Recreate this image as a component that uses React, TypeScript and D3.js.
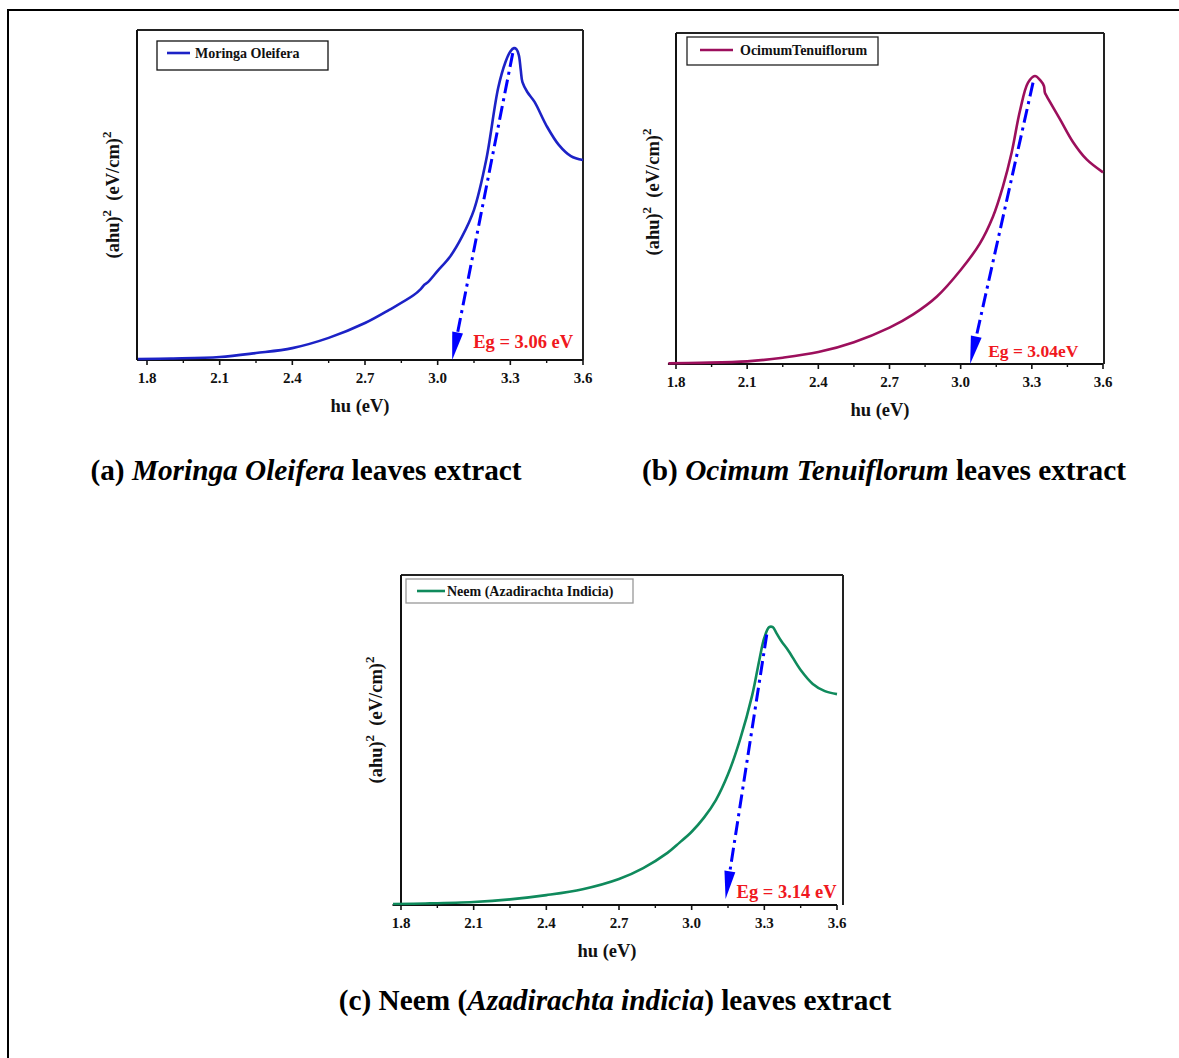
import React from "react";
import * as d3 from "d3";

const FONT = "'Liberation Serif', 'Times New Roman', Times, serif";

const majorTicks = [1.8, 2.1, 2.4, 2.7, 3.0, 3.3, 3.6];
const tickLabels = ["1.8", "2.1", "2.4", "2.7", "3.0", "3.3", "3.6"];
const minorTicks = [1.95, 2.25, 2.55, 2.85, 3.15, 3.45];

// Panel (a) Moringa Oleifera
const energyA = [1.763, 1.9, 2.1, 2.25, 2.4, 2.55, 2.7, 2.8, 2.9, 2.93, 2.945, 2.96, 3.0, 3.05, 3.1, 3.15, 3.2, 3.25, 3.28, 3.3, 3.315, 3.325, 3.335, 3.343, 3.35, 3.37, 3.4, 3.45, 3.5, 3.55, 3.6];
const absorbA = [0.3, 0.45, 0.9, 2.1, 3.6, 6.7, 11.2, 15.2, 19.6, 21.5, 22.8, 23.6, 27.0, 31.2, 37.3, 45.5, 60.5, 82.5, 90.3, 93.5, 94.5, 94.2, 92.4, 87.9, 84.2, 81.2, 78.2, 70.9, 65.2, 61.8, 60.6];

// Panel (b) Ocimum Tenuiflorum
const energyB = [1.768, 1.9, 2.1, 2.25, 2.4, 2.55, 2.7, 2.8, 2.9, 3.0, 3.08, 3.136, 3.178, 3.215, 3.25, 3.284, 3.313, 3.337, 3.351, 3.355, 3.362, 3.419, 3.474, 3.531, 3.6];
const absorbB = [0.2, 0.35, 0.8, 1.9, 3.6, 6.6, 11.0, 15.0, 20.4, 28.4, 36.3, 44.5, 53.6, 63.9, 76.5, 85.0, 87, 85.6, 84, 82, 81, 73.9, 67, 61.8, 57.9];

// Panel (c) Neem
const energyC = [1.767, 1.9, 2.1, 2.25, 2.4, 2.55, 2.7, 2.8, 2.9, 2.95, 3.0, 3.05, 3.1, 3.15, 3.2, 3.25, 3.28, 3.3, 3.32, 3.335, 3.35, 3.37, 3.4, 3.45, 3.5, 3.55, 3.6];
const absorbC = [0.3, 0.45, 0.9, 1.7, 3.0, 4.8, 7.9, 11.2, 15.8, 18.9, 22.2, 26.4, 31.8, 39.6, 50.2, 63.6, 74.5, 81.0, 84.2, 84.2, 82.4, 80, 77, 71.2, 67, 64.8, 63.9];

const legendNames = ["Moringa Oleifera", "OcimumTenuiflorum", "Neem (Azadirachta Indicia)"];
const bandGaps = [3.06, 3.04, 3.14];
const gapLabels = ["Eg = 3.06 eV", "Eg = 3.04eV", "Eg = 3.14 eV"];
const arrowStarts: [number, number][] = [[3.31, 93], [3.305, 85], [3.31, 82]];
const arrowEndValues = [0, 0, 1.8];

type Layout = {
  x18: number; x36: number; left: number; right: number; top: number; bottom: number;
  axisStart: number; color: string; legendBorder: string;
  legend: { x: number; y: number; w: number; h: number; lx1: number; lx2: number; tx: number; cy: number };
  egDx: number; egY: number; egSize: number; xTitleX: number; yTitleX: number; yTitleY: number;
};

const layouts: Layout[] = [
  {
    x18: 147, x36: 583, left: 137, right: 583, top: 30, bottom: 360, axisStart: 1.759,
    color: "#1c22c6", legendBorder: "#111",
    legend: { x: 157, y: 41, w: 171, h: 29, lx1: 167, lx2: 190, tx: 195, cy: 53 },
    egDx: 21, egY: 348, egSize: 18.5, xTitleX: 360, yTitleX: 117, yTitleY: 195,
  },
  {
    x18: 676, x36: 1103, left: 676, right: 1104, top: 33, bottom: 364, axisStart: 1.766,
    color: "#9c0f5c", legendBorder: "#222",
    legend: { x: 687, y: 37, w: 191, h: 28, lx1: 700, lx2: 733, tx: 740, cy: 50 },
    egDx: 18, egY: 357, egSize: 17.5, xTitleX: 880, yTitleX: 657, yTitleY: 192,
  },
  {
    x18: 401, x36: 837, left: 401, right: 843, top: 575, bottom: 905, axisStart: 1.765,
    color: "#0f8a5c", legendBorder: "#999",
    legend: { x: 406, y: 579, w: 227, h: 24, lx1: 417, lx2: 445, tx: 447, cy: 591 },
    egDx: 11, egY: 898, egSize: 18.5, xTitleX: 607, yTitleX: 380, yTitleY: 720,
  },
];

const datasets = [
  { energy: energyA, absorb: absorbA },
  { energy: energyB, absorb: absorbB },
  { energy: energyC, absorb: absorbC },
];

function Panel({ idx }: { idx: number }) {
  const L = layouts[idx];
  const { energy, absorb } = datasets[idx];
  const xs = d3.scaleLinear().domain([1.8, 3.6]).range([L.x18, L.x36]);
  const ys = d3.scaleLinear().domain([0, 100]).range([L.bottom, L.top]);
  const pts = energy.map((e, i) => [e, absorb[i]] as [number, number]);
  const line = d3
    .line<[number, number]>()
    .x((d) => xs(d[0]))
    .y((d) => ys(d[1]))
    .curve(d3.curveCatmullRom.alpha(0.5));

  const [sx, sy] = [xs(arrowStarts[idx][0]), ys(arrowStarts[idx][1])];
  const [ex, ey] = [xs(bandGaps[idx]), ys(arrowEndValues[idx])];
  const dx = ex - sx, dy = ey - sy;
  const len = Math.hypot(dx, dy);
  const ux = dx / len, uy = dy / len;
  const headL = 28, headW = 11;
  const bx = ex - ux * headL, by = ey - uy * headL;
  const nx = -uy, ny = ux;
  const head = `${ex},${ey} ${bx + (nx * headW) / 2},${by + (ny * headW) / 2} ${bx - (nx * headW) / 2},${by - (ny * headW) / 2}`;

  const lg = L.legend;
  return (
    <g fontFamily={FONT}>
      <line x1={L.left} x2={L.right} y1={L.top} y2={L.top} stroke="#222" strokeWidth={2} />
      <line x1={L.left} x2={L.left} y1={L.top} y2={L.bottom} stroke="#111" strokeWidth={2} />
      <line x1={L.right} x2={L.right} y1={L.top} y2={L.bottom} stroke="#222" strokeWidth={2} />
      <line x1={xs(L.axisStart)} x2={xs(3.6)} y1={L.bottom} y2={L.bottom} stroke="#111" strokeWidth={2} />
      {majorTicks.map((t, i) => (
        <g key={"M" + t}>
          <line x1={xs(t)} x2={xs(t)} y1={L.bottom} y2={L.bottom + 5} stroke="#111" strokeWidth={1.6} />
          <text x={xs(t)} y={L.bottom + 23} textAnchor="middle" fontSize={15} fontWeight="bold" fill="#111">
            {tickLabels[i]}
          </text>
        </g>
      ))}
      {minorTicks.map((t) => (
        <line key={"m" + t} x1={xs(t)} x2={xs(t)} y1={L.bottom} y2={L.bottom + 3} stroke="#111" strokeWidth={1.4} />
      ))}
      <text x={L.xTitleX} y={L.bottom + 52} textAnchor="middle" fontSize={18.5} fontWeight="bold" fill="#111">
        hu (eV)
      </text>
      <text
        transform={`translate(${L.yTitleX + 2},${L.yTitleY}) rotate(-90)`}
        textAnchor="middle"
        fontSize={18.5}
        fontWeight="bold"
        fill="#111"
      >
        (ahu)<tspan dy={-8} fontSize={13}>2</tspan>
        <tspan dy={8}>{"\u00a0\u00a0(eV/cm)"}</tspan>
        <tspan dy={-8} fontSize={13}>2</tspan>
      </text>
      <path d={line(pts) || ""} fill="none" stroke={L.color} strokeWidth={2.6} strokeLinejoin="round" />
      <line x1={sx} y1={sy} x2={bx} y2={by} stroke="#0000ff" strokeWidth={3} strokeDasharray="14 5 3 5" />
      <polygon points={head} fill="#0000ff" />
      <text x={ex + L.egDx} y={L.egY} fontSize={L.egSize} fontWeight="bold" fill="#f01820">
        {gapLabels[idx]}
      </text>
      <rect x={lg.x} y={lg.y} width={lg.w} height={lg.h} fill="white" stroke={L.legendBorder} strokeWidth={1.3} />
      <line x1={lg.lx1} x2={lg.lx2} y1={lg.cy} y2={lg.cy} stroke={L.color} strokeWidth={2.6} />
      <text x={lg.tx} y={lg.cy + 4.5} fontSize={14} fontWeight="bold" fill="#111">
        {legendNames[idx]}
      </text>
    </g>
  );
}

export default function App() {
  return (
    <svg
      width={1179}
      height={1058}
      style={{ position: "absolute", left: 0, top: 0, display: "block", background: "white" }}
    >
      <rect x={0} y={0} width={1179} height={1058} fill="white" />
      <path d="M8,1058 V10 H1179" fill="none" stroke="#000" strokeWidth={2} />
      <Panel idx={0} />
      <Panel idx={1} />
      <Panel idx={2} />
      <g fontFamily={FONT} fontWeight="bold" fontSize={29.3} fill="#000">
        <text x={306} y={480} textAnchor="middle">
          {"(a) "}
          <tspan fontStyle="italic">Moringa Oleifera</tspan>
          {" leaves extract"}
        </text>
        <text x={884} y={480} textAnchor="middle">
          {"(b) "}
          <tspan fontStyle="italic">Ocimum Tenuiflorum</tspan>
          {" leaves extract"}
        </text>
        <text x={615} y={1010} textAnchor="middle">
          {"(c) Neem ("}
          <tspan fontStyle="italic">Azadirachta indicia</tspan>
          {") leaves extract"}
        </text>
      </g>
    </svg>
  );
}
